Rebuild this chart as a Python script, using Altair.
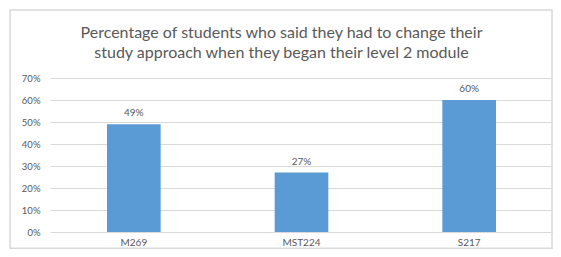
import altair as alt
import pandas as pd

modules = ["M269", "MST224", "S217"]
values = [49, 27, 60]
labels = ["49%", "27%", "60%"]
title_lines = ["Percentage of students who said they had to change their",
               "study approach when they began their level 2 module"]

df = pd.DataFrame({"module": modules, "value": values, "label": labels})

gray = "#595959"
font = "Lato"

base = alt.Chart(df).encode(
    x=alt.X("module:N", sort=modules, title=None,
            scale=alt.Scale(paddingInner=0.68, paddingOuter=0.34),
            axis=alt.Axis(labelAngle=0, domain=False, ticks=False, labelPadding=5,
                          labelColor=gray, labelFontSize=10, labelFont=font)),
    y=alt.Y("value:Q", title=None,
            scale=alt.Scale(domain=[0, 70], nice=False),
            axis=alt.Axis(values=[0, 10, 20, 30, 40, 50, 60, 70],
                          labelExpr="datum.value + '%'",
                          domain=False, ticks=False, labelPadding=10,
                          labelColor=gray, labelFontSize=9.5, labelFont=font,
                          gridColor="#d9d9d9")),
)

bars = base.mark_bar(color="#5b9bd5")
text = base.mark_text(baseline="bottom", dy=-6, color=gray, fontSize=10, font=font).encode(
    text="label:N")

border = alt.Chart(pd.DataFrame({"a": [0]})).mark_rect(
    fill="transparent", stroke="#d9d9d9", strokeWidth=1.5).encode(
    x=alt.value(-40), x2=alt.value(502), y=alt.value(-68), y2=alt.value(170.2))

chart = alt.layer(border, bars, text).properties(
    width=503, height=154,
    title=alt.TitleParams(title_lines, anchor="middle", dx=-20, fontSize=16,
                          font=font, fontWeight="normal", color=gray,
                          lineHeight=20, offset=-52),
    autosize=alt.AutoSizeParams(type="none"),
    padding={"left": 42, "top": 70, "right": 0, "bottom": 17},
).configure_view(stroke=None)

chart.save("out.html", embed_options={"renderer": "svg", "actions": False})
